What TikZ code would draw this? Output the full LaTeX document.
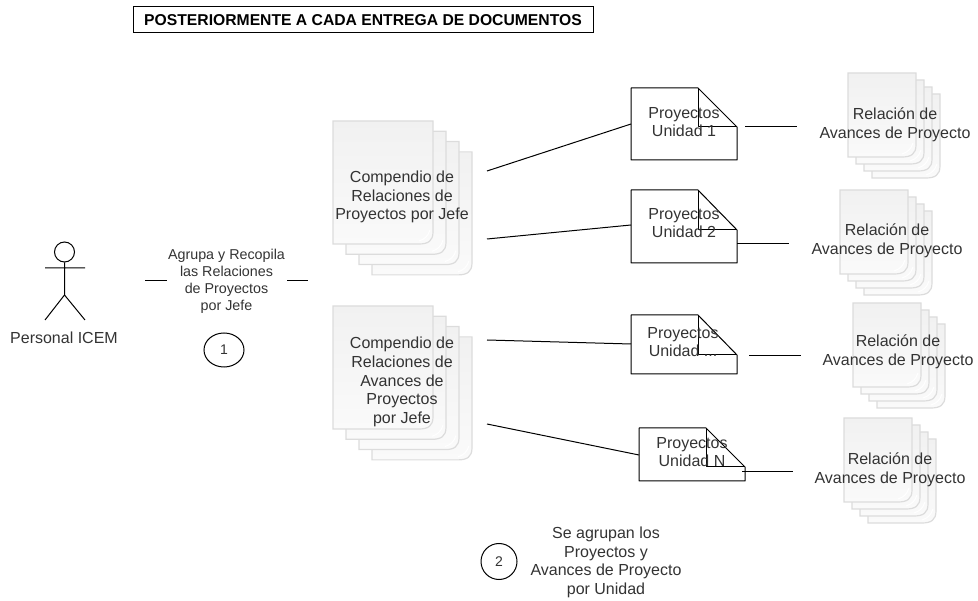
\documentclass[tikz,border=0pt]{standalone}
\usepackage{fontspec}
\setmainfont{Liberation Sans}
\usepackage{xcolor}
\usetikzlibrary{positioning,shapes.geometric}
\definecolor{textgris}{HTML}{333333}
\definecolor{bordehoja}{HTML}{DCDCDC}
\definecolor{hojaalta}{HTML}{F1F1F1}
\definecolor{hojabaja}{HTML}{FAFAFA}
\tikzset{
	linea/.style = {draw=black, line width=1pt},
	texto/.style = {
			align           = center,
			text            = textgris,
			inner sep       = 0pt,
			font            = \fontsize{16}{18.6}\selectfont,
		},
	textochico/.style = {texto, font = \fontsize{14.3}{17}\selectfont},
	numero/.style = {
			ellipse,
			draw            = black,
			line width      = 1pt,
			inner sep       = 0pt,
			text            = textgris,
			font            = \fontsize{14}{17}\selectfont,
		},
	pics/hojas/.style n args = {4}{
			code = {
					\foreach \i in {3,2,1,0} {
							\begin{scope}[shift={({\i*#3},{\i*#4})}]
								\draw[draw=bordehoja, line width=1.2pt, top color=hojaalta, bottom color=hojabaja]
								(0,0) -- ({#1},0) -- ({#1},{#2-12}) .. controls ({#1},{#2-3}) and ({#1-5},{#2}) .. ({#1-14},{#2}) -- (0,{#2}) -- cycle;
								\draw[white, line width=1pt] ({#1-3},{#2-14}) .. controls ({#1-5},{#2-8}) and ({#1-8},{#2-5}) .. ({#1-14},{#2-3});
							\end{scope}
						}
				}
		},
	pics/nota/.style n args = {2}{
			code = {
					\draw[linea, line join=round] (0,0) -- (67,0) -- (106,{#2}) -- (106,{#1}) -- (0,{#1}) -- cycle;
					\draw[linea, line join=round] (67,0) -- (67,{#2}) -- (106,{#2});
				}
		}
}

\begin{document}
\begin{tikzpicture}[x=1pt,y=-1pt]
	\useasboundingbox (0,0) rectangle (978,601);

	% titulo
	\node[draw=black, line width=1pt, minimum width=460pt, minimum height=26pt, inner sep=0pt, font=\fontsize{15.7}{17}\selectfont\bfseries] (titulo) at (363,20) {POSTERIORMENTE A CADA ENTREGA DE DOCUMENTOS};

	% actor
	\node[circle, draw=black, line width=1pt, minimum size=20pt, inner sep=0pt] (cabeza) at (64.5,252) {};
	\coordinate (cadera) at (64.5,295);
	\coordinate (brazoa) at (45,268);
	\coordinate (brazob) at (85,268);
	\coordinate (piea) at (45,320);
	\coordinate (pieb) at (85,320);
	\draw[linea] (cabeza) -- (cadera) (brazoa) -- (brazob) (piea) -- (cadera) -- (pieb);
	\node[texto] (personal) at (64,338) {Personal ICEM};

	% paso 1
	\node[textochico] (agrupa) at (226.5,281) {Agrupa y Recopila\\las Relaciones\\de Proyectos\\por Jefe};
	\node[numero, minimum width=40pt, minimum height=34pt] (uno) at (224,350) {1};
	\coordinate (ia) at (145,281);
	\coordinate (ib) at (167,281);
	\coordinate (da) at (287,281);
	\coordinate (db) at (308,281);
	\draw[linea] (ia) -- (ib) (da) -- (db);

	% compendios
	\pic at (333,121) {hojas={100}{123}{13}{10.3}};
	\pic at (333,306) {hojas={100}{123}{13}{10.3}};
	\node[texto] (comp1) at (402,197) {Compendio de\\Relaciones de\\Proyectos por Jefe};
	\node[texto] (comp2) at (402,382) {Compendio de\\Relaciones de\\Avances de\\Proyectos\\por Jefe};

	% relaciones
	\pic at (848,73)  {hojas={68}{84}{8}{7}};
	\pic at (840,190) {hojas={68}{84}{8}{7}};
	\pic at (853,303) {hojas={68}{84}{8}{7}};
	\pic at (844,418) {hojas={68}{84}{8}{7}};
	\node[texto] (rel1) at (895,124.5) {Relación de\\Avances de Proyecto};
	\node[texto] (rel2) at (887,241) {Relación de\\Avances de Proyecto};
	\node[texto] (rel3) at (898,352) {Relación de\\Avances de Proyecto};
	\node[texto] (rel4) at (890,469.5) {Relación de\\Avances de Proyecto};

	% notas
	\pic at (631,88)  {nota={72}{39}};
	\pic at (631,190) {nota={73}{40}};
	\pic at (631,315) {nota={59}{40}};
	\pic at (639,428) {nota={53}{39}};
	\node[texto] (pro1) at (684,122) {Proyectos\\Unidad 1};
	\node[texto] (pro2) at (684,223) {Proyectos\\Unidad 2};
	\node[texto] (pro3) at (683,342) {Proyectos\\Unidad ...};
	\node[texto] (pro4) at (692,452) {Proyectos\\Unidad N};

	% lineas
	\coordinate (c1) at (487,171);
	\coordinate (c2) at (487,239);
	\coordinate (c3) at (487,340);
	\coordinate (c4) at (487,424);
	\coordinate (n1) at (631,124);
	\coordinate (n2) at (631,225);
	\coordinate (n3) at (631,344);
	\coordinate (n4) at (639,455);
	\draw[linea] (c1) -- (n1) (c2) -- (n2) (c3) -- (n3) (c4) -- (n4);
	\coordinate (s1) at (745,127);
	\coordinate (s2) at (737,244);
	\coordinate (s3) at (749,356);
	\coordinate (s4) at (742,472);
	\coordinate (r1) at (797,127);
	\coordinate (r2) at (789,244);
	\coordinate (r3) at (801,356);
	\coordinate (r4) at (793,472);
	\draw[linea] (s1) -- (r1) (s2) -- (r2) (s3) -- (r3) (s4) -- (r4);

	% paso 2
	\node[numero, minimum width=36pt, minimum height=36pt] (dos) at (499,561.5) {2};
	\node[texto] (agrupan) at (606,562.5) {Se agrupan los\\Proyectos y\\Avances de Proyecto\\por Unidad};
\end{tikzpicture}
\end{document}
